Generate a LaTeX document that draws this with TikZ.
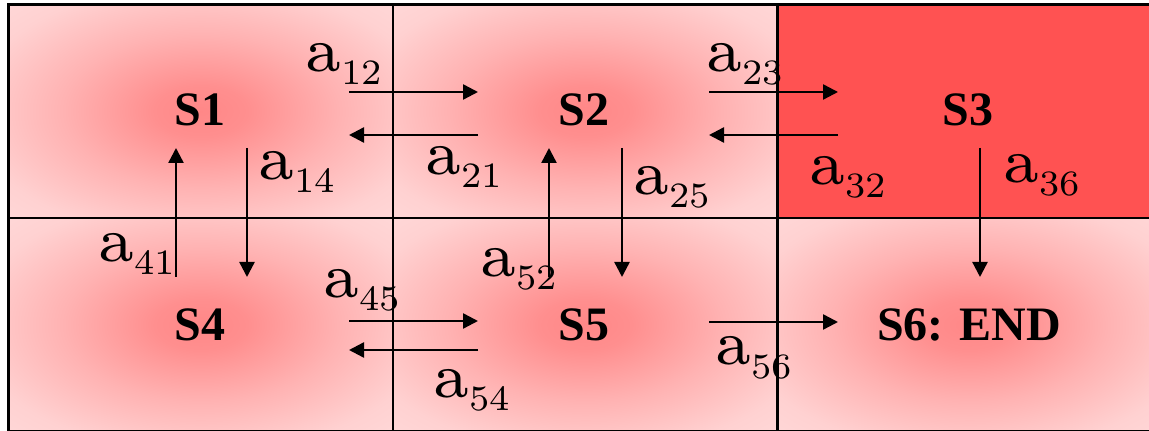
\documentclass[tikz,border=0pt]{standalone}
\usepackage{fontspec}
\newfontfamily\boldserif{Liberation Serif}
\usetikzlibrary{arrows.meta}
\definecolor{sthreered}{RGB}{255,82,82}
\pgfdeclareradialshading{cellshade}{\pgfpoint{0bp}{0bp}}{rgb(0bp)=(1,0.53,0.53); rgb(6bp)=(1,0.56,0.56); rgb(18bp)=(1,0.70,0.70); rgb(30bp)=(1,0.82,0.82); rgb(42bp)=(1,0.87,0.87); rgb(50bp)=(1,0.88,0.88)}
\newcommand{\albl}[1]{\scalebox{4.5}{\fontsize{7}{8}\selectfont a}\raisebox{-6.5pt}{\scalebox{2.55}{\fontsize{7}{8}\selectfont #1}}}
\tikzset{
  gridline/.style={line width=1.25pt, black},
  st/.style={inner sep=0pt, anchor=base, font={\boldserif\bfseries\fontsize{24}{28}\selectfont}},
  lbl/.style={inner sep=0pt, anchor=base west},
  arr/.style={line width=1.2pt, -{Triangle[length=7.5pt,width=7.5pt]}}
}
\begin{document}
\begin{tikzpicture}[x=0.5pt,y=-0.5pt]
\useasboundingbox (0,0) rectangle (1149,431);
\clip (0,0) rectangle (1149,431);
% cells
\shade[shading=cellshade] (8.7,4.5) rectangle (393,218);
\shade[shading=cellshade] (393,4.5) rectangle (777.3,218);
\fill[sthreered] (777.3,4.5) rectangle (1161.6,218);
\shade[shading=cellshade] (8.7,218) rectangle (393,431.5);
\shade[shading=cellshade] (393,218) rectangle (777.3,431.5);
\shade[shading=cellshade] (777.3,218) rectangle (1161.6,431.5);
% grid
\draw[gridline] (8.7,4.5) rectangle (1161.6,431.5);
\draw[gridline] (393,4.5) -- (393,431.5);
\draw[gridline] (777.3,4.5) -- (777.3,431.5);
\draw[gridline] (8.7,218) -- (1161.6,218);
% states
\node[st] (S1) at (200,126) {S1};
\node[st] (S2) at (584,126) {S2};
\node[st] (S3) at (968,126) {S3};
\node[st] (S4) at (200,341) {S4};
\node[st] (S5) at (584,341) {S5};
\node[st] (S6) at (969,341) {S6: END};
% arrow end points
\coordinate (p12s) at (349,92);  \coordinate (p12e) at (478,92);
\coordinate (p21s) at (478,135); \coordinate (p21e) at (349,135);
\coordinate (p23s) at (709,92);  \coordinate (p23e) at (838,92);
\coordinate (p32s) at (838,135); \coordinate (p32e) at (709,135);
\coordinate (p14s) at (247,148); \coordinate (p14e) at (247,277);
\coordinate (p41s) at (176,277); \coordinate (p41e) at (176,148);
\coordinate (p25s) at (622,148); \coordinate (p25e) at (622,277);
\coordinate (p52s) at (549,277); \coordinate (p52e) at (549,148);
\coordinate (p36s) at (980,148); \coordinate (p36e) at (980,277);
\coordinate (p45s) at (349,321); \coordinate (p45e) at (478,321);
\coordinate (p54s) at (478,350); \coordinate (p54e) at (349,350);
\coordinate (p56s) at (709,322); \coordinate (p56e) at (838,322);
\foreach \n in {12,21,23,32,14,41,25,52,36,45,54,56}
  \draw[arr] (p\n s) -- (p\n e);
% labels
\node[lbl] (l12) at (305,72)  {\albl{12}};
\node[lbl] (l21) at (425,175) {\albl{21}};
\node[lbl] (l23) at (706,72)  {\albl{23}};
\node[lbl] (l32) at (809,185) {\albl{32}};
\node[lbl] (l36) at (1003,183) {\albl{36}};
\node[lbl] (l14) at (258,180) {\albl{14}};
\node[lbl] (l41) at (98,262)  {\albl{41}};
\node[lbl] (l25) at (633,195) {\albl{25}};
\node[lbl] (l52) at (480,277) {\albl{52}};
\node[lbl] (l45) at (323,298) {\albl{45}};
\node[lbl] (l54) at (433,398) {\albl{54}};
\node[lbl] (l56) at (715,365) {\albl{56}};
\end{tikzpicture}
\end{document}
